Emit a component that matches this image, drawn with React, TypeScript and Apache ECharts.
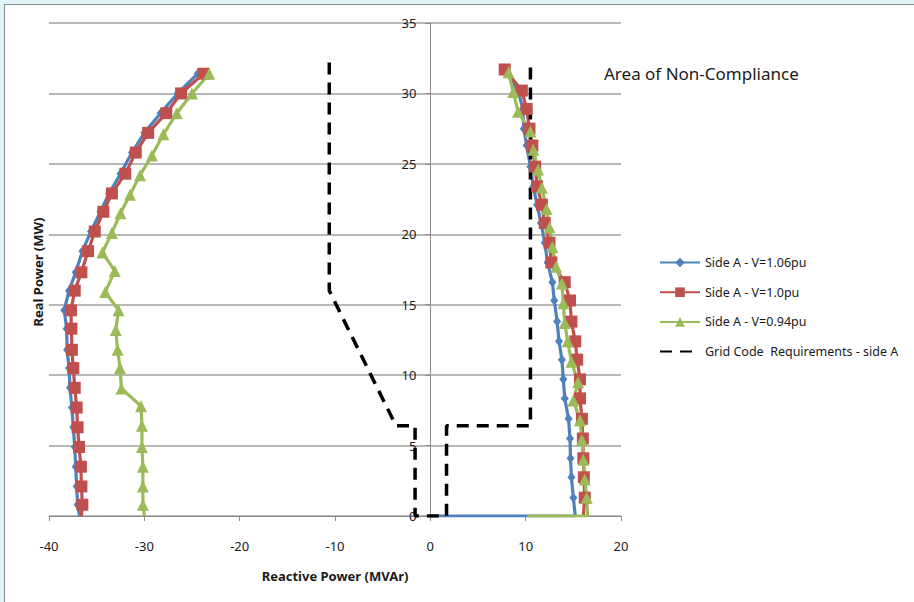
import React, { useEffect, useRef } from "react";
import * as echarts from "echarts";

const NAMES = [
  "Side A - V=1.06pu",
  "Side A - V=1.0pu",
  "Side A - V=0.94pu",
  "Grid Code  Requirements - side A",
];

// Left branch (bottom to top)
const leftY = [0, 0.8, 2.1, 3.5, 4.9, 6.3, 7.7, 9.1, 10.5, 11.8, 13.3, 14.6, 16.0, 17.3, 18.8, 20.2, 21.6, 22.9, 24.3, 25.8, 27.2, 28.6, 30.0, 31.4];
const blueLeftX = [-36.8, -37.0, -37.1, -37.2, -37.3, -37.45, -37.6, -37.8, -37.9, -38.1, -38.15, -38.4, -37.9, -37.2, -36.5, -35.6, -34.6, -33.7, -32.5, -31.3, -30.0, -28.3, -26.5, -24.4];
const redLeftX = [-36.6, -36.5, -36.6, -36.65, -36.85, -37.0, -37.1, -37.3, -37.45, -37.6, -37.65, -37.7, -37.3, -36.6, -35.9, -35.2, -34.3, -33.4, -32.0, -30.9, -29.6, -27.7, -26.15, -23.8];
const greenLeftY = [0, 0.8, 2.1, 3.5, 4.9, 6.4, 7.8, 9.05, 10.5, 11.8, 13.2, 14.6, 15.9, 17.4, 18.7, 20.1, 21.5, 22.8, 24.2, 25.6, 27.1, 28.6, 30.0, 31.4];
const greenLeftX = [-30.0, -30.15, -30.15, -30.15, -30.25, -30.25, -30.35, -32.4, -32.55, -32.8, -33.0, -32.7, -34.1, -33.1, -34.4, -33.4, -32.5, -31.5, -30.45, -29.2, -28.0, -26.6, -25.0, -23.2];

// Right branch (top to bottom)
const rightY = [31.7, 30.2, 28.9, 27.5, 26.3, 24.8, 23.4, 22.1, 20.8, 19.4, 18.0, 16.6, 15.3, 13.8, 12.4, 11.1, 9.7, 8.35, 6.9, 5.5, 4.1, 2.75, 1.3, 0];
const blueRightX = [7.7, 9.2, 9.7, 9.8, 10.1, 10.5, 10.8, 11.2, 11.6, 12.0, 12.3, 12.8, 13.0, 13.3, 13.5, 13.8, 13.95, 14.1, 14.5, 14.65, 14.7, 14.8, 15.0, 15.2];
const redRightX = [7.8, 9.6, 10.1, 10.4, 10.7, 11.0, 11.2, 11.7, 12.0, 12.5, 12.7, 14.1, 14.65, 14.8, 15.2, 15.4, 15.7, 15.7, 15.9, 16.0, 16.05, 16.1, 16.2, 16.05];
const greenRightY = [31.5, 30.1, 28.7, 27.3, 26.0, 24.6, 23.3, 21.8, 20.5, 19.1, 17.7, 16.5, 15.1, 13.7, 12.4, 10.95, 9.5, 8.2, 6.8, 5.4, 4.0, 2.6, 1.3, 0];
const greenRightX = [8.2, 8.7, 9.2, 10.5, 10.8, 11.3, 11.7, 12.2, 12.5, 12.8, 13.2, 13.8, 13.95, 14.1, 14.4, 14.8, 15.5, 15.0, 15.7, 15.9, 16.05, 16.2, 16.4, 16.5];
// Tails along the x axis
const blueTailX = [0];
const greenTailX = [10.2];

// Grid code requirement envelope
const gridX = [-10.6, -10.6, -3.6, -1.6, -1.6, 1.7, 1.7, 10.5, 10.5];
const gridY = [32.2, 16.0, 6.4, 6.4, 0, 0, 6.4, 6.4, 32.2];

const COLORS = ["#4F81BD", "#C0504D", "#9BBB59", "#000000"];
const FONT = '"Noto Sans", sans-serif';

const X_MIN = -40;
const X_MAX = 20;
const GRID_LEFT = 49;
const GRID_RIGHT = 293;
const CHART_W = 914;

function build(xs: number[], ys: number[], bare: (i: number) => boolean) {
  return xs.map((x, i) =>
    bare(i) ? { value: [x, ys[i]], symbol: "none" } : { value: [x, ys[i]] }
  );
}

export default function App() {
  const ref = useRef<HTMLDivElement>(null);
  useEffect(() => {
    if (!ref.current) return;
    const chart = echarts.init(ref.current, undefined, { renderer: "svg" });
    const last = rightY.length - 1;
    const blueRight = build(blueRightX, rightY, (i) => i === last).concat(
      blueTailX.map((x) => ({ value: [x, 0], symbol: "none" }))
    );
    const greenRight = build(greenRightX, greenRightY, (i) => i === last).concat(
      greenTailX.map((x) => ({ value: [x, 0], symbol: "none" }))
    );
    const plotW = CHART_W - GRID_LEFT - GRID_RIGHT;
    const zeroOffset = -((0 - X_MIN) / (X_MAX - X_MIN)) * plotW;
    const mk = (
      name: string,
      color: string,
      symbol: string,
      size: number | number[],
      data: any[]
    ) => ({
      type: "line",
      name,
      data,
      symbol,
      symbolSize: size,
      showAllSymbol: true,
      lineStyle: { color, width: 3.2 },
      itemStyle: { color, borderWidth: 0 },
      color,
    });
    chart.setOption({
      animation: false,
      backgroundColor: "transparent",
      textStyle: { fontFamily: FONT },
      grid: { left: GRID_LEFT, right: GRID_RIGHT, top: 23, bottom: 86, containLabel: false },
      legend: {
        orient: "vertical",
        left: 654,
        top: 251,
        itemWidth: 40,
        itemHeight: 12,
        itemGap: 16.7,
        data: [
          NAMES[0],
          NAMES[1],
          NAMES[2],
          { name: NAMES[3], itemStyle: { opacity: 0 } },
        ],
        textStyle: { fontSize: 12.5, color: "#1a1a1a", fontFamily: FONT },
      },
      xAxis: {
        type: "value",
        min: X_MIN,
        max: X_MAX,
        interval: 10,
        name: "Reactive Power (MVAr)",
        nameLocation: "middle",
        nameGap: 53,
        nameTextStyle: { fontSize: 13, fontWeight: "bold", color: "#1a1a1a", fontFamily: FONT },
        axisLine: { onZero: false, lineStyle: { color: "#8c8c8c", width: 1 } },
        axisTick: { show: true, length: 5, lineStyle: { color: "#8c8c8c" } },
        axisLabel: { margin: 23, fontSize: 13, color: "#1a1a1a", fontFamily: FONT },
        splitLine: { show: false },
      },
      yAxis: {
        type: "value",
        min: 0,
        max: 35,
        interval: 5,
        position: "left",
        offset: zeroOffset,
        axisLine: { show: true, onZero: false, lineStyle: { color: "#8c8c8c", width: 1 } },
        axisTick: { show: true, length: 5, lineStyle: { color: "#8c8c8c" } },
        axisLabel: { margin: 14, fontSize: 13, color: "#1a1a1a", fontFamily: FONT },
        splitLine: { show: true, lineStyle: { color: "#a0a0a0", width: 1.5 } },
      },
      graphic: [
        {
          type: "text",
          left: 604,
          top: 65,
          style: { text: "Area of Non-Compliance", fontSize: 17, fill: "#1a1a1a", fontFamily: FONT },
        },
        {
          type: "text",
          x: 38,
          y: 272,
          rotation: Math.PI / 2,
          style: {
            text: "Real Power (MW)",
            fontSize: 13,
            fontWeight: "bold",
            fill: "#1a1a1a",
            fontFamily: FONT,
            align: "center",
            verticalAlign: "middle",
          },
        },
      ],
      series: [
        mk(NAMES[0], COLORS[0], "diamond", [8, 10], build(blueLeftX, leftY, (i) => i === 0)),
        mk(NAMES[0], COLORS[0], "diamond", [8, 10], blueRight),
        mk(NAMES[1], COLORS[1], "rect", 12, build(redLeftX, leftY, (i) => i === 0)),
        mk(NAMES[1], COLORS[1], "rect", 12, build(redRightX, rightY, (i) => i === last)),
        mk(NAMES[2], COLORS[2], "triangle", 12, build(greenLeftX, greenLeftY, (i) => i === 0)),
        mk(NAMES[2], COLORS[2], "triangle", 12, greenRight),
        {
          type: "line",
          name: NAMES[3],
          data: gridX.map((x, i) => [x, gridY[i]]),
          symbol: "none",
          color: "#000",
          lineStyle: { color: "#000", width: 3.5, type: [12, 8] },
          itemStyle: { color: "#000" },
        },
      ],
    });
    return () => chart.dispose();
  }, []);

  return (
    <div style={{ position: "fixed", left: 0, top: 0, width: 914, height: 602, background: "#e2f2f9", overflow: "hidden" }}>
      <div
        style={{
          position: "absolute",
          left: 4,
          top: 4,
          width: 920,
          height: 610,
          background: "#ffffff",
          borderLeft: "1.5px solid #8a8a8a",
          borderTop: "1.5px solid #8a8a8a",
        }}
      />
      <div ref={ref} style={{ position: "absolute", left: 0, top: 0, width: 914, height: 602 }} />
    </div>
  );
}
